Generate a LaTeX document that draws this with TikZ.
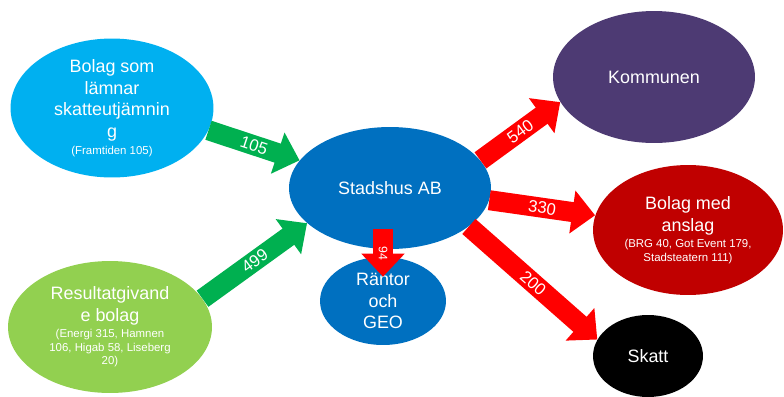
\documentclass[tikz,border=0pt]{standalone}
\usepackage{fontspec}
\setmainfont{Liberation Sans}
\usetikzlibrary{arrows.meta,shapes.geometric}
\definecolor{ljusbla}{HTML}{00B0F0}
\definecolor{ljusgron}{HTML}{92D050}
\definecolor{gron}{HTML}{00B050}
\definecolor{bla}{HTML}{0070C0}
\definecolor{lila}{HTML}{4D3A73}
\definecolor{morkrod}{HTML}{C00000}
\definecolor{rod}{HTML}{FF0000}
\newcommand{\liten}[1]{{\fontsize{6.5}{7.6}\selectfont #1}}

\begin{document}
\begin{tikzpicture}[
    x=0.02cm, y=-0.02cm,
    bubbla/.style={ellipse,inner sep=0pt,text=white,align=center,
        font=\fontsize{10.2}{12.3}\selectfont},
    pil/.style={line width=0.4cm,-{Triangle[width=0.84cm,length=0.46cm]}},
    etikett/.style={midway,sloped,text=white,inner sep=0pt,
        font=\fontsize{9.5}{11}\selectfont}
]
\useasboundingbox (0,0) rectangle (784,396);

% Bolagen till vänster
\node[bubbla,fill=ljusbla,minimum width=4.06cm,minimum height=2.78cm] (bolag) at (112,108)
    {Bolag som\\lämnar\\skatteutjämnin\\g\\[-2.8pt]\liten{(Framtiden 105)}};
\node[bubbla,fill=ljusgron,minimum width=4.08cm,minimum height=2.64cm] (resultat) at (110,327)
    {Resultatgivand\\e bolag\\[-2.8pt]\liten{(Energi 315, Hamnen}\\[-4.6pt]\liten{106, Higab 58, Liseberg}\\[-4.6pt]\liten{20)}};

% Mitten
\node[bubbla,fill=bla,minimum width=4.04cm,minimum height=2.44cm] (stadshus) at (390,188) {Stadshus AB};
\node[bubbla,fill=bla,minimum width=2.52cm,minimum height=1.76cm] (rantor) at (383,301) {Räntor\\och\\GEO};

% Mottagare till höger
\node[bubbla,fill=lila,minimum width=4.04cm,minimum height=2.64cm] (kommunen) at (654,77) {Kommunen};
\node[bubbla,fill=morkrod,minimum width=3.8cm,minimum height=2.6cm] (anslag) at (688,230)
    {Bolag med\\anslag\\[-2.8pt]\liten{(BRG 40, Got Event 179,}\\[-4.6pt]\liten{Stadsteatern 111)}};
\node[bubbla,fill=black,minimum width=2.2cm,minimum height=1.64cm] (skatt) at (648,356) {Skatt};

% Pilar in
\draw[pil,gron] (bolag.-13) -- (stadshus.163) node[etikett] {105};
\draw[pil,gron] (resultat.17.6) -- (stadshus.203) node[etikett] {499};

% Pilar ut
\draw[pil,rod] (stadshus.17) -- (kommunen.195) node[etikett] {540};
\draw[pil,rod] (stadshus.-7) -- (anslag.171) node[etikett] {330};
\draw[pil,rod] (stadshus.-26) -- (skatt.162) node[etikett] {200};
\draw[pil,rod,shorten <=-0.4cm,shorten >=-0.4cm] (stadshus.south -| rantor.north) -- (rantor.north)
    node[etikett,font=\fontsize{7}{8}\selectfont] {94};
\end{tikzpicture}
\end{document}
